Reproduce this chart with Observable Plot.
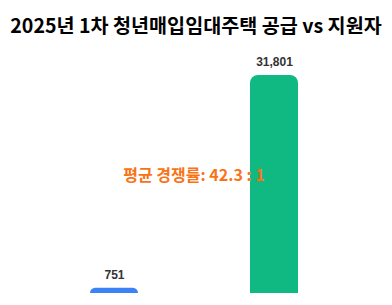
<!DOCTYPE html>
<html>
<head>
<meta charset="utf-8">
<script src="https://cdn.jsdelivr.net/npm/d3@7"></script>
<script src="https://cdn.jsdelivr.net/npm/@observablehq/plot@0.6"></script>
<style>
  html, body { margin: 0; padding: 0; background: #fff; }
  #title { height: 48px; line-height: 50px; text-align: center; font-family: "Noto Sans CJK KR", sans-serif; font-weight: 700; font-size: 19.6px; color: #000; white-space: nowrap; }
  svg { display: block; }
</style>
</head>
<body>
<div id="title">2025년 1차 청년매입임대주택 공급 vs 지원자</div>
<div id="chart"></div>
<script>
const categories = ["공급", "지원자"];
const values = [751, 31801];
const barColors = ["#3b82f6", "#10b981"];
const annotation = "평균 경쟁률: 42.3 : 1";

const data = categories.map((c, i) => ({ category: c, value: values[i], label: d3.format(",")(values[i]) }));

const chart = Plot.plot({
  width: 392,
  height: 257,
  marginTop: 5,
  marginBottom: 12,
  marginLeft: 33,
  marginRight: 38,
  x: { domain: categories, axis: null, paddingInner: 0.7, paddingOuter: 0.35 },
  y: { domain: [0, 35000], axis: null },
  color: { domain: categories, range: barColors },
  marks: [
    Plot.barY(data, { x: "category", y: "value", fill: "category", ry1: 8 }),
    Plot.text(data, { x: "category", y: "value", text: "label", dy: -13, fill: "#333", fontWeight: "bold", fontSize: 12, fontFamily: "Arial, 'Liberation Sans', sans-serif" }),
    Plot.text([annotation], { frameAnchor: "middle", text: d => d, dy: 2, fill: "#f97316", fontWeight: "bold", fontSize: 16, fontFamily: "'Noto Sans CJK KR', sans-serif" })
  ]
});
document.getElementById("chart").appendChild(chart);
</script>
</body>
</html>
